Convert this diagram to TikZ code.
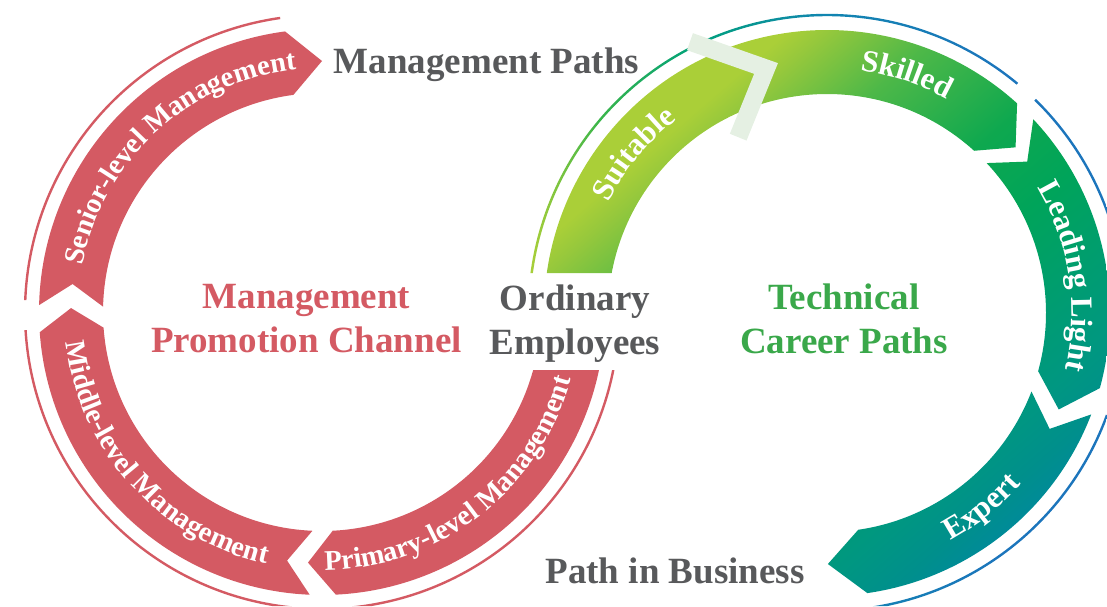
\documentclass[tikz,border=0pt]{standalone}
\usepackage{fontspec}
\setmainfont{Liberation Serif}
\usetikzlibrary{decorations.text}

\definecolor{mgred}{RGB}{212,90,99}
\definecolor{txtgray}{RGB}{88,89,91}
\definecolor{txtgreen}{RGB}{58,168,74}
\definecolor{notchgray}{RGB}{229,240,227}
\definecolor{gA}{RGB}{170,207,56}
\definecolor{gB}{RGB}{150,200,60}
\definecolor{gC}{RGB}{77,184,72}
\definecolor{gD}{RGB}{14,168,79}
\definecolor{gE}{RGB}{0,164,90}
\definecolor{gF}{RGB}{0,151,129}
\definecolor{gG}{RGB}{0,143,140}
\definecolor{gH}{RGB}{0,136,160}
\definecolor{lA}{RGB}{166,206,57}
\definecolor{lB}{RGB}{57,181,74}
\definecolor{lC}{RGB}{0,162,122}
\definecolor{lD}{RGB}{17,133,176}
\definecolor{lE}{RGB}{28,117,188}

\pgfdeclarehorizontalshading{bandshade}{100bp}{color(0bp)=(gA); color(35bp)=(gA); color(36.6bp)=(gB); color(41.4bp)=(gC); color(48.3bp)=(gD); color(53.3bp)=(gE); color(62.7bp)=(gF); color(65.8bp)=(gG); color(68.9bp)=(gH); color(100bp)=(gH)}
\pgfdeclarehorizontalshading{lineshade}{100bp}{color(0bp)=(lA); color(31.6bp)=(lA); color(35.8bp)=(lB); color(41.6bp)=(lC); color(49.8bp)=(lD); color(60.8bp)=(lE); color(100bp)=(lE)}

% tail angle, notch depth, head angle, point depth
\newcommand\bandpath[4]{(#1:283) arc[start angle=#1, end angle=#3+#4, radius=283] -- (#3:251) -- ({#3+#4}:219) arc[start angle=#3+#4, end angle=#1, radius=219] -- ({#1-#2}:251) -- cycle}
\newcommand\ringpath[2]{(#1:296.8) arc[start angle=#1, end angle=#2, radius=296.8] -- (#2:299.2) arc[start angle=#2, end angle=#1, radius=299.2] -- cycle}
\newcommand\redarcfont{\bfseries\fontsize{28.5}{30}\selectfont}
\newcommand\grnarcfont{\bfseries\fontsize{31}{32}\selectfont}

\tikzset{
  bigtext/.style={font=\bfseries\fontsize{37}{44}\selectfont, align=center, inner sep=0pt},
  redarc/.style={decorate, decoration={text along path, text align=center, text color=white, text={|\redarcfont|#1}}},
  grnarc/.style={decorate, decoration={text along path, text align=center, text color=white, text={|\grnarcfont|#1}}},
  redline/.style={mgred, line width=2.4}
}

\begin{document}
\begin{tikzpicture}[x=1pt, y=1pt]
\useasboundingbox (0,0) rectangle (1107,606);
\coordinate (redc) at (322,294);
\coordinate (grnc) at (827,293);

\begin{scope}
\clip (0,0) rectangle (480,606) (480,0) rectangle (1107,236);
\begin{scope}[shift={(redc)}]
\fill[mgred] \bandpath{10}{6}{-93.2}{6} \bandpath{267.5}{5.5}{179.1}{5} \bandpath{178.6}{5}{90}{7.5};
\foreach \a/\b in {98.1/177.7, 183.5/266.5, 272.8/370}
  \draw[redline] (\a:297) arc[start angle=\a, end angle=\b, radius=297];
\end{scope}
\end{scope}

\begin{scope}
\clip (640,0) rectangle (1107,606) (0,333) rectangle (640,606);
\begin{scope}[shift={(grnc)}]
\begin{scope}
\clip \bandpath{185}{6}{41.3}{6.5} \bandpath{43.2}{6.1}{-22.6}{7.2} \bandpath{-21}{6.5}{-89.8}{8};
\shade[shading=bandshade, shading angle=-49.2] (-400,-400) rectangle (400,400);
\end{scope}
\begin{scope}
\clip \ringpath{50.3}{185} \ringpath{-16}{45.7} \ringpath{-84}{-20};
\shade[shading=lineshade] (-400,-400) rectangle (400,400);
\end{scope}
\draw[notchgray, line width=18] (116.8:304) -- (104:252) -- (116.8:197);
\end{scope}
\end{scope}

\path[shift={(redc)}, redarc={Senior-level Management}] (182.5:244) arc[start angle=182.5, end angle=82.5, radius=244];
\path[shift={(redc)}, redarc={Middle-level Management}] (172.1:258) arc[start angle=172.1, end angle=272.1, radius=258];
\path[shift={(redc)}, redarc={Primary-level Management}] (257.8:258) arc[start angle=257.8, end angle=357.8, radius=258];
\path[shift={(grnc)}, grnarc={Suitable}] (190.5:245) arc[start angle=190.5, end angle=90.5, radius=245];
\path[shift={(grnc)}, grnarc={Skilled}] (121.5:245) arc[start angle=121.5, end angle=21.5, radius=245];
\path[shift={(grnc)}, grnarc={Leading Light}] (58.8:245) arc[start angle=58.8, end angle=-41.2, radius=245];
\path[shift={(grnc)}, grnarc={Expert}] (-101.5:259) arc[start angle=-101.5, end angle=-1.5, radius=259];

\node[bigtext, txtgray, anchor=base] (mgmtpaths) at (486.5,532) {Management Paths};
\node[bigtext, mgred] (promo) at (306.5,287.5) {Management\\Promotion Channel};
\node[bigtext, txtgray] (ordinary) at (575,282.5) {Ordinary\\Employees};
\node[bigtext, txtgreen] (technical) at (844,287.5) {Technical\\Career Paths};
\node[bigtext, txtgray, anchor=base] (business) at (675,23) {Path in Business};
\end{tikzpicture}
\end{document}
